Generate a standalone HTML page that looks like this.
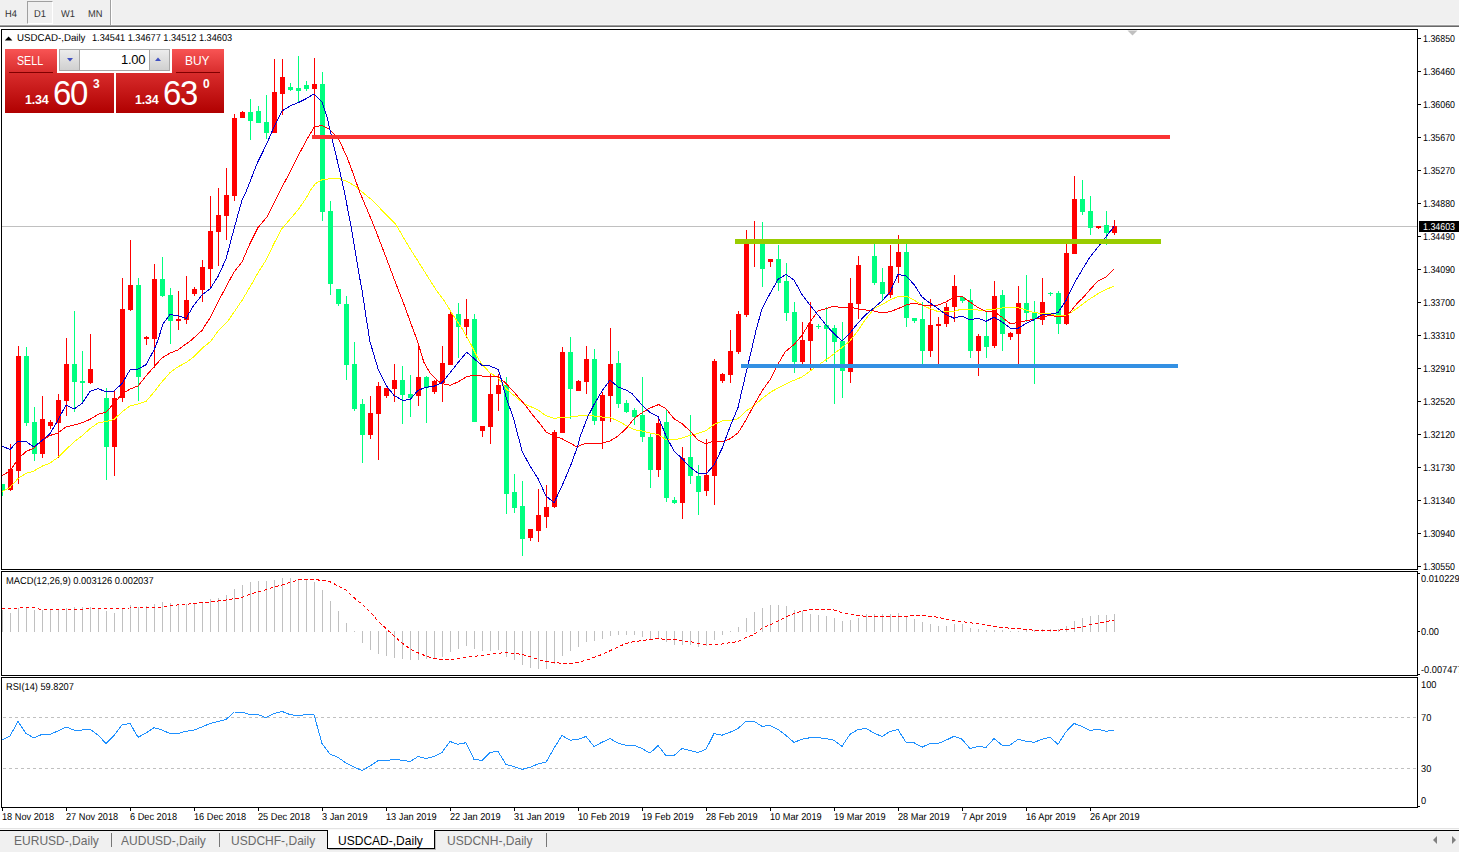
<!DOCTYPE html>
<html><head><meta charset="utf-8"><title>USDCAD Daily</title>
<style>
*{margin:0;padding:0;box-sizing:border-box}
html,body{width:1459px;height:852px;overflow:hidden;background:#fff;font-family:"Liberation Sans",sans-serif;}
body{position:relative}
.abs{position:absolute}
#tb{position:absolute;left:0;top:0;width:1459px;height:25px;background:#f0f0f0}
#tbl1{position:absolute;left:0;top:24px;width:1459px;height:1px;background:#f6f6f6}
#tbl2{position:absolute;left:0;top:25px;width:1459px;height:2px;background:linear-gradient(#a0a0a0 0,#a0a0a0 50%,#686868 50%,#686868 100%)}
.tbt{position:absolute;top:9px;font-size:10px;color:#333;line-height:12px;transform:scaleX(0.93);transform-origin:0 0;text-rendering:geometricPrecision}
#d1{position:absolute;left:27px;top:1px;width:26px;height:23px;border:1px solid #a0a0a0;border-right-color:#fff;border-bottom-color:#fff;background:#f0f0f0}
#sep{position:absolute;left:110px;top:0;width:2px;height:25px;background:linear-gradient(90deg,#a0a0a0 0,#a0a0a0 50%,#fff 50%,#fff 100%)}
.bd{position:absolute;background:#000}
.pl{position:absolute;left:1423px;font-size:10px;line-height:12px;color:#000;white-space:nowrap;transform:scaleX(0.885);transform-origin:0 0;text-rendering:geometricPrecision}
.tick{position:absolute;left:1418px;width:3px;height:1px;background:#000}
.dl{position:absolute;top:812px;font-size:10px;line-height:12px;color:#000;white-space:nowrap;transform:scaleX(0.92);transform-origin:0 0;text-rendering:geometricPrecision}
.dtick{position:absolute;top:808px;width:1px;height:3px;background:#000}
.sm{position:absolute;font-size:10px;line-height:12px;color:#000;white-space:nowrap;transform:scaleX(0.925);transform-origin:0 0;text-rendering:geometricPrecision}
#cur{position:absolute;left:1419px;top:221px;width:40px;height:11px;background:#000}
#curt{position:absolute;left:1423px;top:222px;color:#fff;font-size:10px;line-height:12px;transform:scaleX(0.885);transform-origin:0 0;text-rendering:geometricPrecision}
#curline{position:absolute;left:2px;top:226px;width:1415px;height:1px;background:#c0c0c0}
.dash{position:absolute;left:3px;width:1414px;height:1px;background:repeating-linear-gradient(90deg,#c0c0c0 0,#c0c0c0 3px,transparent 3px,transparent 6px)}
#tabs{position:absolute;left:0;top:829px;width:1459px;height:23px;background:#f0f0f0}
.tab{position:absolute;top:833px;font-size:13px;line-height:15px;color:#6a6a6a;white-space:nowrap;transform:scaleX(0.925);transform-origin:0 0}
.red1{background:linear-gradient(#f85454,#d82c2c)}
.red2{background:linear-gradient(#d82c2c,#b00000)}
</style></head><body>
<div id="tb"></div><div id="tbl1"></div><div id="tbl2"></div>
<div id="d1"></div><div id="sep"></div>
<div class="tbt" style="left:5px">H4</div><div class="tbt" style="left:34px">D1</div><div class="tbt" style="left:61px">W1</div><div class="tbt" style="left:88px">MN</div>
<!-- borders -->
<div class="bd" style="left:1px;top:29px;width:1417px;height:1px"></div>
<div class="bd" style="left:1px;top:29px;width:1px;height:779px"></div>
<div class="bd" style="left:1417px;top:29px;width:1px;height:779px"></div>
<div class="bd" style="left:1px;top:569px;width:1417px;height:1px"></div>
<div class="bd" style="left:1px;top:571px;width:1417px;height:1px"></div>
<div class="bd" style="left:1px;top:675px;width:1417px;height:1px"></div>
<div class="bd" style="left:1px;top:677px;width:1417px;height:1px"></div>
<div class="bd" style="left:1px;top:807px;width:1417px;height:1px"></div>
<div class="abs" style="left:0;top:570px;width:1459px;height:1px;background:#fff"></div>
<div class="abs" style="left:0;top:676px;width:1459px;height:1px;background:#fff"></div>
<div id="curline"></div>
<div class="abs" style="left:1418px;top:631px;width:2px;height:1px;background:#000"></div><div class="abs" style="left:1418px;top:573px;width:2px;height:1px;background:#000"></div><div class="abs" style="left:1418px;top:674px;width:2px;height:1px;background:#000"></div><div class="abs" style="left:1418px;top:806px;width:2px;height:1px;background:#000"></div>
<div class="dash" style="top:717px"></div><div class="dash" style="top:768px"></div>
<svg class="abs" style="left:0;top:0" width="1459" height="852" viewBox="0 0 1459 852" shape-rendering="crispEdges">
<defs><clipPath id="cp"><rect x="2" y="30" width="1415" height="778"/></clipPath></defs>
<g shape-rendering="crispEdges" clip-path="url(#cp)">
<rect x="2" y="484" width="1" height="12" fill="#00ff7f"/><rect x="0" y="484" width="5" height="7" fill="#00ff7f"/>
<rect x="10" y="444" width="1" height="47" fill="#ff0000"/><rect x="8" y="469" width="5" height="21" fill="#ff0000"/>
<rect x="18" y="346" width="1" height="138" fill="#ff0000"/><rect x="16" y="356" width="5" height="115" fill="#ff0000"/>
<rect x="26" y="347" width="1" height="79" fill="#00ff7f"/><rect x="24" y="356" width="5" height="67" fill="#00ff7f"/>
<rect x="34" y="407" width="1" height="54" fill="#00ff7f"/><rect x="32" y="422" width="5" height="32" fill="#00ff7f"/>
<rect x="42" y="396" width="1" height="62" fill="#ff0000"/><rect x="40" y="419" width="5" height="35" fill="#ff0000"/>
<rect x="50" y="420" width="1" height="9" fill="#ff0000"/><rect x="48" y="422" width="5" height="4" fill="#ff0000"/>
<rect x="58" y="394" width="1" height="64" fill="#ff0000"/><rect x="56" y="400" width="5" height="23" fill="#ff0000"/>
<rect x="66" y="338" width="1" height="78" fill="#ff0000"/><rect x="64" y="364" width="5" height="37" fill="#ff0000"/>
<rect x="74" y="311" width="1" height="101" fill="#00ff7f"/><rect x="72" y="364" width="5" height="18" fill="#00ff7f"/>
<rect x="82" y="351" width="1" height="51" fill="#00ff7f"/><rect x="80" y="381" width="5" height="2" fill="#00ff7f"/>
<rect x="90" y="334" width="1" height="50" fill="#ff0000"/><rect x="88" y="369" width="5" height="14" fill="#ff0000"/>
<rect x="106" y="388" width="1" height="92" fill="#00ff7f"/><rect x="104" y="398" width="5" height="49" fill="#00ff7f"/>
<rect x="114" y="390" width="1" height="86" fill="#ff0000"/><rect x="112" y="398" width="5" height="49" fill="#ff0000"/>
<rect x="122" y="278" width="1" height="124" fill="#ff0000"/><rect x="120" y="309" width="5" height="89" fill="#ff0000"/>
<rect x="130" y="240" width="1" height="71" fill="#ff0000"/><rect x="128" y="285" width="5" height="25" fill="#ff0000"/>
<rect x="138" y="278" width="1" height="123" fill="#00ff7f"/><rect x="136" y="285" width="5" height="92" fill="#00ff7f"/>
<rect x="146" y="336" width="1" height="9" fill="#ff0000"/><rect x="144" y="337" width="5" height="2" fill="#ff0000"/>
<rect x="154" y="264" width="1" height="104" fill="#ff0000"/><rect x="152" y="279" width="5" height="60" fill="#ff0000"/>
<rect x="162" y="257" width="1" height="40" fill="#00ff7f"/><rect x="160" y="279" width="5" height="17" fill="#00ff7f"/>
<rect x="170" y="288" width="1" height="56" fill="#00ff7f"/><rect x="168" y="295" width="5" height="26" fill="#00ff7f"/>
<rect x="178" y="291" width="1" height="39" fill="#ff0000"/><rect x="176" y="319" width="5" height="2" fill="#ff0000"/>
<rect x="186" y="276" width="1" height="48" fill="#ff0000"/><rect x="184" y="300" width="5" height="20" fill="#ff0000"/>
<rect x="194" y="287" width="1" height="9" fill="#ff0000"/><rect x="192" y="289" width="5" height="5" fill="#ff0000"/>
<rect x="202" y="260" width="1" height="42" fill="#ff0000"/><rect x="200" y="267" width="5" height="23" fill="#ff0000"/>
<rect x="210" y="196" width="1" height="92" fill="#ff0000"/><rect x="208" y="231" width="5" height="38" fill="#ff0000"/>
<rect x="218" y="188" width="1" height="78" fill="#ff0000"/><rect x="216" y="215" width="5" height="17" fill="#ff0000"/>
<rect x="226" y="168" width="1" height="72" fill="#ff0000"/><rect x="224" y="195" width="5" height="21" fill="#ff0000"/>
<rect x="234" y="114" width="1" height="87" fill="#ff0000"/><rect x="232" y="118" width="5" height="78" fill="#ff0000"/>
<rect x="242" y="111" width="1" height="7" fill="#ff0000"/><rect x="240" y="112" width="5" height="6" fill="#ff0000"/>
<rect x="250" y="99" width="1" height="41" fill="#00ff7f"/><rect x="248" y="112" width="5" height="9" fill="#00ff7f"/>
<rect x="258" y="106" width="1" height="17" fill="#00ff7f"/><rect x="256" y="111" width="5" height="12" fill="#00ff7f"/>
<rect x="266" y="95" width="1" height="44" fill="#00ff7f"/><rect x="264" y="122" width="5" height="11" fill="#00ff7f"/>
<rect x="274" y="59" width="1" height="74" fill="#ff0000"/><rect x="272" y="92" width="5" height="41" fill="#ff0000"/>
<rect x="282" y="59" width="1" height="56" fill="#ff0000"/><rect x="280" y="77" width="5" height="17" fill="#ff0000"/>
<rect x="290" y="83" width="1" height="8" fill="#00ff7f"/><rect x="288" y="87" width="5" height="3" fill="#00ff7f"/>
<rect x="298" y="56" width="1" height="46" fill="#00ff7f"/><rect x="296" y="88" width="5" height="3" fill="#00ff7f"/>
<rect x="306" y="81" width="1" height="10" fill="#00ff7f"/><rect x="304" y="85" width="5" height="4" fill="#00ff7f"/>
<rect x="314" y="58" width="1" height="77" fill="#ff0000"/><rect x="312" y="84" width="5" height="5" fill="#ff0000"/>
<rect x="322" y="72" width="1" height="149" fill="#00ff7f"/><rect x="320" y="84" width="5" height="128" fill="#00ff7f"/>
<rect x="330" y="201" width="1" height="94" fill="#00ff7f"/><rect x="328" y="211" width="5" height="73" fill="#00ff7f"/>
<rect x="338" y="289" width="1" height="17" fill="#00ff7f"/><rect x="336" y="289" width="5" height="15" fill="#00ff7f"/>
<rect x="346" y="296" width="1" height="84" fill="#00ff7f"/><rect x="344" y="304" width="5" height="61" fill="#00ff7f"/>
<rect x="354" y="342" width="1" height="69" fill="#00ff7f"/><rect x="352" y="364" width="5" height="45" fill="#00ff7f"/>
<rect x="362" y="399" width="1" height="64" fill="#00ff7f"/><rect x="360" y="404" width="5" height="31" fill="#00ff7f"/>
<rect x="370" y="396" width="1" height="43" fill="#ff0000"/><rect x="368" y="413" width="5" height="22" fill="#ff0000"/>
<rect x="378" y="382" width="1" height="78" fill="#ff0000"/><rect x="376" y="386" width="5" height="28" fill="#ff0000"/>
<rect x="386" y="388" width="1" height="10" fill="#ff0000"/><rect x="384" y="388" width="5" height="8" fill="#ff0000"/>
<rect x="394" y="364" width="1" height="38" fill="#ff0000"/><rect x="392" y="380" width="5" height="9" fill="#ff0000"/>
<rect x="402" y="366" width="1" height="58" fill="#00ff7f"/><rect x="400" y="380" width="5" height="15" fill="#00ff7f"/>
<rect x="410" y="375" width="1" height="42" fill="#00ff7f"/><rect x="408" y="394" width="5" height="4" fill="#00ff7f"/>
<rect x="418" y="344" width="1" height="62" fill="#ff0000"/><rect x="416" y="377" width="5" height="19" fill="#ff0000"/>
<rect x="426" y="376" width="1" height="47" fill="#00ff7f"/><rect x="424" y="377" width="5" height="11" fill="#00ff7f"/>
<rect x="434" y="380" width="1" height="14" fill="#ff0000"/><rect x="432" y="381" width="5" height="11" fill="#ff0000"/>
<rect x="442" y="346" width="1" height="56" fill="#ff0000"/><rect x="440" y="363" width="5" height="20" fill="#ff0000"/>
<rect x="450" y="312" width="1" height="53" fill="#ff0000"/><rect x="448" y="314" width="5" height="51" fill="#ff0000"/>
<rect x="458" y="303" width="1" height="55" fill="#00ff7f"/><rect x="456" y="314" width="5" height="13" fill="#00ff7f"/>
<rect x="466" y="299" width="1" height="39" fill="#ff0000"/><rect x="464" y="319" width="5" height="8" fill="#ff0000"/>
<rect x="474" y="314" width="1" height="108" fill="#00ff7f"/><rect x="472" y="319" width="5" height="103" fill="#00ff7f"/>
<rect x="482" y="426" width="1" height="11" fill="#ff0000"/><rect x="480" y="426" width="5" height="5" fill="#ff0000"/>
<rect x="490" y="374" width="1" height="70" fill="#ff0000"/><rect x="488" y="394" width="5" height="33" fill="#ff0000"/>
<rect x="498" y="374" width="1" height="37" fill="#ff0000"/><rect x="496" y="385" width="5" height="9" fill="#ff0000"/>
<rect x="506" y="377" width="1" height="137" fill="#00ff7f"/><rect x="504" y="385" width="5" height="109" fill="#00ff7f"/>
<rect x="514" y="474" width="1" height="39" fill="#00ff7f"/><rect x="512" y="492" width="5" height="16" fill="#00ff7f"/>
<rect x="522" y="481" width="1" height="75" fill="#00ff7f"/><rect x="520" y="506" width="5" height="33" fill="#00ff7f"/>
<rect x="530" y="529" width="1" height="12" fill="#ff0000"/><rect x="528" y="529" width="5" height="9" fill="#ff0000"/>
<rect x="538" y="489" width="1" height="53" fill="#ff0000"/><rect x="536" y="515" width="5" height="16" fill="#ff0000"/>
<rect x="546" y="485" width="1" height="43" fill="#ff0000"/><rect x="544" y="507" width="5" height="10" fill="#ff0000"/>
<rect x="554" y="430" width="1" height="78" fill="#ff0000"/><rect x="552" y="432" width="5" height="75" fill="#ff0000"/>
<rect x="562" y="347" width="1" height="86" fill="#ff0000"/><rect x="560" y="352" width="5" height="81" fill="#ff0000"/>
<rect x="570" y="337" width="1" height="82" fill="#00ff7f"/><rect x="568" y="352" width="5" height="37" fill="#00ff7f"/>
<rect x="578" y="380" width="1" height="11" fill="#ff0000"/><rect x="576" y="381" width="5" height="10" fill="#ff0000"/>
<rect x="586" y="346" width="1" height="48" fill="#ff0000"/><rect x="584" y="359" width="5" height="23" fill="#ff0000"/>
<rect x="594" y="349" width="1" height="76" fill="#00ff7f"/><rect x="592" y="359" width="5" height="62" fill="#00ff7f"/>
<rect x="602" y="392" width="1" height="57" fill="#ff0000"/><rect x="600" y="395" width="5" height="26" fill="#ff0000"/>
<rect x="610" y="328" width="1" height="94" fill="#ff0000"/><rect x="608" y="364" width="5" height="32" fill="#ff0000"/>
<rect x="618" y="351" width="1" height="57" fill="#00ff7f"/><rect x="616" y="363" width="5" height="41" fill="#00ff7f"/>
<rect x="626" y="400" width="1" height="13" fill="#00ff7f"/><rect x="624" y="403" width="5" height="9" fill="#00ff7f"/>
<rect x="634" y="408" width="1" height="17" fill="#00ff7f"/><rect x="632" y="410" width="5" height="7" fill="#00ff7f"/>
<rect x="642" y="377" width="1" height="65" fill="#00ff7f"/><rect x="640" y="415" width="5" height="22" fill="#00ff7f"/>
<rect x="650" y="433" width="1" height="55" fill="#00ff7f"/><rect x="648" y="437" width="5" height="33" fill="#00ff7f"/>
<rect x="658" y="416" width="1" height="61" fill="#ff0000"/><rect x="656" y="423" width="5" height="47" fill="#ff0000"/>
<rect x="666" y="410" width="1" height="92" fill="#00ff7f"/><rect x="664" y="422" width="5" height="76" fill="#00ff7f"/>
<rect x="674" y="497" width="1" height="7" fill="#00ff7f"/><rect x="672" y="500" width="5" height="3" fill="#00ff7f"/>
<rect x="682" y="447" width="1" height="72" fill="#ff0000"/><rect x="680" y="458" width="5" height="45" fill="#ff0000"/>
<rect x="690" y="415" width="1" height="69" fill="#00ff7f"/><rect x="688" y="457" width="5" height="19" fill="#00ff7f"/>
<rect x="698" y="465" width="1" height="50" fill="#00ff7f"/><rect x="696" y="476" width="5" height="16" fill="#00ff7f"/>
<rect x="706" y="439" width="1" height="57" fill="#ff0000"/><rect x="704" y="475" width="5" height="16" fill="#ff0000"/>
<rect x="714" y="359" width="1" height="146" fill="#ff0000"/><rect x="712" y="361" width="5" height="115" fill="#ff0000"/>
<rect x="722" y="373" width="1" height="10" fill="#ff0000"/><rect x="720" y="374" width="5" height="7" fill="#ff0000"/>
<rect x="730" y="330" width="1" height="53" fill="#ff0000"/><rect x="728" y="351" width="5" height="24" fill="#ff0000"/>
<rect x="738" y="311" width="1" height="43" fill="#ff0000"/><rect x="736" y="314" width="5" height="38" fill="#ff0000"/>
<rect x="746" y="230" width="1" height="87" fill="#ff0000"/><rect x="744" y="243" width="5" height="72" fill="#ff0000"/>
<rect x="754" y="221" width="1" height="46" fill="#ff0000"/><rect x="752" y="241" width="5" height="2" fill="#ff0000"/>
<rect x="762" y="222" width="1" height="65" fill="#00ff7f"/><rect x="760" y="243" width="5" height="26" fill="#00ff7f"/>
<rect x="770" y="259" width="1" height="8" fill="#ff0000"/><rect x="768" y="259" width="5" height="3" fill="#ff0000"/>
<rect x="778" y="245" width="1" height="46" fill="#00ff7f"/><rect x="776" y="259" width="5" height="24" fill="#00ff7f"/>
<rect x="786" y="263" width="1" height="58" fill="#00ff7f"/><rect x="784" y="281" width="5" height="32" fill="#00ff7f"/>
<rect x="794" y="302" width="1" height="71" fill="#00ff7f"/><rect x="792" y="312" width="5" height="50" fill="#00ff7f"/>
<rect x="802" y="322" width="1" height="42" fill="#ff0000"/><rect x="800" y="340" width="5" height="22" fill="#ff0000"/>
<rect x="810" y="302" width="1" height="69" fill="#ff0000"/><rect x="808" y="324" width="5" height="17" fill="#ff0000"/>
<rect x="818" y="324" width="1" height="5" fill="#00ff7f"/><rect x="816" y="326" width="5" height="1" fill="#00ff7f"/>
<rect x="826" y="307" width="1" height="55" fill="#00ff7f"/><rect x="824" y="325" width="5" height="4" fill="#00ff7f"/>
<rect x="834" y="325" width="1" height="79" fill="#00ff7f"/><rect x="832" y="328" width="5" height="14" fill="#00ff7f"/>
<rect x="842" y="322" width="1" height="76" fill="#00ff7f"/><rect x="840" y="341" width="5" height="30" fill="#00ff7f"/>
<rect x="850" y="278" width="1" height="105" fill="#ff0000"/><rect x="848" y="303" width="5" height="69" fill="#ff0000"/>
<rect x="858" y="256" width="1" height="63" fill="#ff0000"/><rect x="856" y="265" width="5" height="39" fill="#ff0000"/>
<rect x="874" y="243" width="1" height="42" fill="#00ff7f"/><rect x="872" y="256" width="5" height="27" fill="#00ff7f"/>
<rect x="882" y="268" width="1" height="33" fill="#00ff7f"/><rect x="880" y="282" width="5" height="12" fill="#00ff7f"/>
<rect x="890" y="245" width="1" height="53" fill="#ff0000"/><rect x="888" y="266" width="5" height="29" fill="#ff0000"/>
<rect x="898" y="235" width="1" height="48" fill="#ff0000"/><rect x="896" y="252" width="5" height="15" fill="#ff0000"/>
<rect x="906" y="244" width="1" height="83" fill="#00ff7f"/><rect x="904" y="252" width="5" height="66" fill="#00ff7f"/>
<rect x="914" y="318" width="1" height="5" fill="#00ff7f"/><rect x="912" y="318" width="5" height="3" fill="#00ff7f"/>
<rect x="922" y="302" width="1" height="62" fill="#00ff7f"/><rect x="920" y="319" width="5" height="32" fill="#00ff7f"/>
<rect x="930" y="299" width="1" height="58" fill="#ff0000"/><rect x="928" y="325" width="5" height="26" fill="#ff0000"/>
<rect x="938" y="317" width="1" height="48" fill="#ff0000"/><rect x="936" y="324" width="5" height="2" fill="#ff0000"/>
<rect x="946" y="303" width="1" height="24" fill="#ff0000"/><rect x="944" y="307" width="5" height="17" fill="#ff0000"/>
<rect x="954" y="275" width="1" height="47" fill="#ff0000"/><rect x="952" y="286" width="5" height="21" fill="#ff0000"/>
<rect x="962" y="297" width="1" height="6" fill="#00ff7f"/><rect x="960" y="297" width="5" height="4" fill="#00ff7f"/>
<rect x="970" y="289" width="1" height="69" fill="#00ff7f"/><rect x="968" y="300" width="5" height="51" fill="#00ff7f"/>
<rect x="978" y="334" width="1" height="42" fill="#ff0000"/><rect x="976" y="336" width="5" height="15" fill="#ff0000"/>
<rect x="986" y="311" width="1" height="47" fill="#00ff7f"/><rect x="984" y="336" width="5" height="11" fill="#00ff7f"/>
<rect x="994" y="281" width="1" height="67" fill="#ff0000"/><rect x="992" y="296" width="5" height="50" fill="#ff0000"/>
<rect x="1002" y="290" width="1" height="61" fill="#00ff7f"/><rect x="1000" y="295" width="5" height="39" fill="#00ff7f"/>
<rect x="1010" y="332" width="1" height="8" fill="#ff0000"/><rect x="1008" y="333" width="5" height="4" fill="#ff0000"/>
<rect x="1018" y="286" width="1" height="78" fill="#ff0000"/><rect x="1016" y="303" width="5" height="31" fill="#ff0000"/>
<rect x="1026" y="275" width="1" height="47" fill="#00ff7f"/><rect x="1024" y="303" width="5" height="10" fill="#00ff7f"/>
<rect x="1034" y="301" width="1" height="83" fill="#00ff7f"/><rect x="1032" y="312" width="5" height="7" fill="#00ff7f"/>
<rect x="1042" y="278" width="1" height="47" fill="#ff0000"/><rect x="1040" y="302" width="5" height="18" fill="#ff0000"/>
<rect x="1050" y="292" width="1" height="4" fill="#00ff7f"/><rect x="1048" y="293" width="5" height="1" fill="#00ff7f"/>
<rect x="1058" y="291" width="1" height="43" fill="#00ff7f"/><rect x="1056" y="293" width="5" height="31" fill="#00ff7f"/>
<rect x="1066" y="244" width="1" height="81" fill="#ff0000"/><rect x="1064" y="253" width="5" height="71" fill="#ff0000"/>
<rect x="1074" y="176" width="1" height="78" fill="#ff0000"/><rect x="1072" y="199" width="5" height="55" fill="#ff0000"/>
<rect x="1082" y="180" width="1" height="35" fill="#00ff7f"/><rect x="1080" y="199" width="5" height="13" fill="#00ff7f"/>
<rect x="1090" y="196" width="1" height="39" fill="#00ff7f"/><rect x="1088" y="211" width="5" height="17" fill="#00ff7f"/>
<rect x="1098" y="226" width="1" height="3" fill="#ff0000"/><rect x="1096" y="226" width="5" height="2" fill="#ff0000"/>
<rect x="1106" y="211" width="1" height="34" fill="#00ff7f"/><rect x="1104" y="225" width="5" height="8" fill="#00ff7f"/>
<rect x="1114" y="220" width="1" height="15" fill="#ff0000"/><rect x="1112" y="226" width="5" height="7" fill="#ff0000"/>
<polyline fill="none" stroke-linejoin="bevel" stroke="#ffff00" stroke-width="1" points="2,491.4 10,487.4 18,478.5 26,473.4 34,471 42,466.2 50,463.2 58,457.3 66,449.5 74,442 82,436 90,428.6 98,423 106,421.4 114,419.4 122,412 130,406 138,404 146,401.5 154,392 162,381.8 170,372.6 178,366.8 186,362.6 194,356.7 202,348.4 211,341 218,331 228.4,320.4 242,300.4 250,287 258,272.8 266,260.2 274,243.5 282,228.5 290,219.3 298,210 306,198.4 310,191 315.4,183.8 322,179.6 330.4,178.8 338.8,178.4 347,181.3 355.5,186.3 361,191 374,201.7 384,212.6 395.7,224.3 409,246.9 425.8,273.6 436.2,290 443.7,300 452,313.4 462,328.5 470.5,343.5 477.2,356.9 482,364.4 490,372.8 498,377.8 506,388.7 514,395.4 524,403.7 537.4,409.6 546,415.7 554,418.4 562,417.4 570,417 578,416 586,415.4 594,416 602,417 610,417.4 618,421 626,425.4 634,429.6 642,431 650,433 658,434.6 666,439.6 674,440 682,438 690,435.4 698,433.4 706,430.7 714,424.5 722,421 730,420.9 738,418.7 746,411 754,406 762,398.6 770.8,392 780,387 790,382 802,377 813.4,368.6 821.8,362.7 830,357 842,347.5 850,341 858,330.4 866,318.7 874,308.7 882,304.5 890,300 898,296.5 906,296 914,300 922,305 930,308.7 938,311.5 946,312 954,311.3 962,309 970,309.5 978,310 986,310 994,309.3 1002,308 1010,307.5 1018,307.6 1026,310 1034,312.6 1042,313.5 1050,313.8 1058,316 1066,315.5 1072,312 1082,304.6 1090,298.8 1098,293.7 1106,289.6 1114,286" />
<polyline fill="none" stroke-linejoin="bevel" stroke="#ff0000" stroke-width="1" points="2,475.5 10,471 18,459 26,451.5 34,448 42,440.5 50,435.5 58,433 66,427 74,425 82,422.8 90,419.4 98,414.4 106,412 114,403.5 122,394 130,389 138,386 146,376 154,366.8 162,358 170,353 178,350 186,344 191.5,340 202,330.4 210,317.8 221.7,295 234,272 242,262 250,243.5 258,227.6 267,216.8 274,203.4 279.4,192 290,172 298,156.2 306,141 314,127.3 322,125.3 329.6,129.4 338.8,139.5 347,157 353.8,175.4 359.3,191 374,226 386.5,258.6 398.3,290 403.6,303.4 410.3,321.8 418,342.7 423.7,361.9 430.4,373.6 437,380.3 442,383.6 450,385.3 458,382 466.7,376.6 474,375.3 482,376 490,376 498,376 506,383.6 514,392 524,403.7 535.7,418.8 540,423.7 546,432 554,436 562,438.8 570,443 576.8,447 586,443 594,443 602,443 610,441 618,436 626,428.7 634,418.7 642,412.8 650,408 658.7,404.5 666,408.7 674,418.7 682,423.7 690,431 698,440 706,443.8 714,441 722,442 730,438.8 738,433 746,420 754,405 762,391 770.8,378.6 777.5,365 785,352 794,344.6 802,335.4 810,322 818,311 826,308.7 834,306 842,308 850,307 858,309 866,310 874,311 882,313 890,311.7 898,308.7 906,305 914,303 922,305 930,305 938,305 946,302 954,297 962,296.5 970,302 978,307.6 986,311.5 994,311.5 1002,317.2 1010,323.4 1018,322.8 1026,320.7 1034,319.3 1042,317.7 1050,315 1058,317 1066,316 1070.4,312 1077,303.4 1082,298.8 1090,289.6 1098,281 1106,277 1114,269" />
<polyline fill="none" stroke-linejoin="bevel" stroke="#0000cd" stroke-width="1" points="2,446 10,449.5 18,441 26,441.5 34,447 42,440.5 50,433.6 58,420 66,405 74,409 82,403.5 90,391.5 98,388.5 106,392 114,391 122,383.5 130,370 138,369 146,364.7 154,350 158,340 163,323.7 170,314.5 178,315.7 186,318.4 194,305 202,295 210,289 218,276.5 226,259 234,229 242,200 246,192 257,163.7 266,145.3 274,127 282,111 290,106 298,102.7 306,98.8 314,93.8 322,101.8 327,116.9 332,138.6 338.8,167 344,190 350.5,223.4 358.9,273.6 362,290 366,316.8 370,341.8 378,368.6 386,385.3 394,395.4 402.8,400.4 410,399.5 418,390.3 426,387.3 434,386.2 442,382.8 450,372.8 458,362.7 466.7,352.2 474,358.6 482,365.3 490,366 498,369.4 500.6,377 506,397 514,420 522,451 530,466 538,478.5 546,496 554,502.8 562,486 570.8,465 577.5,446.8 580,437 587.7,417 594,404.5 602,391 610,380 618,387 626,390 632,393.6 642,405 650,412.6 658,416.5 662,426 666,436 674,451 682,458.5 690,467 698,473 706,474 714,465 722,448.5 730,426.8 738,407.5 739.7,400 751,352 756,330.4 762,308.7 770,293.6 778,279.4 786,274.4 794,280 802,294.4 810,305 818,315 826,325 834,333.7 842,341 850,333 858,322.9 866,314.5 874,307.8 882,301 890,292 898,274.4 906,276 914,284.4 922,297 930,303 938,308.5 946,314.5 954,318.2 962,316 970,320 978,318.2 986,321.3 994,317.2 1002,321.8 1010,328 1018,328.3 1026,323.5 1034,319.8 1042,314.8 1050,314.3 1058,312.6 1066,300.5 1074,283.7 1082,270 1090,257 1098,247 1106,236.9 1114,226.5" />
<rect x="312" y="135" width="858" height="4" fill="#fa3434"/>
<rect x="735" y="239" width="426" height="5" fill="#99cc00"/>
<rect x="741" y="364" width="437" height="4" fill="#3390e3"/>
<rect x="2" y="610" width="1" height="22" fill="#c0c0c0"/>
<rect x="10" y="613" width="1" height="19" fill="#c0c0c0"/>
<rect x="18" y="608" width="1" height="24" fill="#c0c0c0"/>
<rect x="26" y="607" width="1" height="25" fill="#c0c0c0"/>
<rect x="34" y="610" width="1" height="22" fill="#c0c0c0"/>
<rect x="42" y="610" width="1" height="22" fill="#c0c0c0"/>
<rect x="50" y="610" width="1" height="22" fill="#c0c0c0"/>
<rect x="58" y="610" width="1" height="22" fill="#c0c0c0"/>
<rect x="66" y="608" width="1" height="24" fill="#c0c0c0"/>
<rect x="74" y="607" width="1" height="25" fill="#c0c0c0"/>
<rect x="82" y="607" width="1" height="25" fill="#c0c0c0"/>
<rect x="90" y="607" width="1" height="25" fill="#c0c0c0"/>
<rect x="98" y="609" width="1" height="23" fill="#c0c0c0"/>
<rect x="106" y="611" width="1" height="21" fill="#c0c0c0"/>
<rect x="114" y="613" width="1" height="19" fill="#c0c0c0"/>
<rect x="122" y="608" width="1" height="24" fill="#c0c0c0"/>
<rect x="130" y="605" width="1" height="27" fill="#c0c0c0"/>
<rect x="138" y="607" width="1" height="25" fill="#c0c0c0"/>
<rect x="146" y="606" width="1" height="26" fill="#c0c0c0"/>
<rect x="154" y="604" width="1" height="28" fill="#c0c0c0"/>
<rect x="162" y="602" width="1" height="30" fill="#c0c0c0"/>
<rect x="170" y="603" width="1" height="29" fill="#c0c0c0"/>
<rect x="178" y="604" width="1" height="28" fill="#c0c0c0"/>
<rect x="186" y="604" width="1" height="28" fill="#c0c0c0"/>
<rect x="194" y="603" width="1" height="29" fill="#c0c0c0"/>
<rect x="202" y="602" width="1" height="30" fill="#c0c0c0"/>
<rect x="210" y="599" width="1" height="33" fill="#c0c0c0"/>
<rect x="218" y="598" width="1" height="34" fill="#c0c0c0"/>
<rect x="226" y="595" width="1" height="37" fill="#c0c0c0"/>
<rect x="234" y="589" width="1" height="43" fill="#c0c0c0"/>
<rect x="242" y="585" width="1" height="47" fill="#c0c0c0"/>
<rect x="250" y="582" width="1" height="50" fill="#c0c0c0"/>
<rect x="258" y="581" width="1" height="51" fill="#c0c0c0"/>
<rect x="266" y="581" width="1" height="51" fill="#c0c0c0"/>
<rect x="274" y="580" width="1" height="52" fill="#c0c0c0"/>
<rect x="282" y="578" width="1" height="54" fill="#c0c0c0"/>
<rect x="290" y="578" width="1" height="54" fill="#c0c0c0"/>
<rect x="298" y="579" width="1" height="53" fill="#c0c0c0"/>
<rect x="306" y="580" width="1" height="52" fill="#c0c0c0"/>
<rect x="314" y="582" width="1" height="50" fill="#c0c0c0"/>
<rect x="322" y="590" width="1" height="42" fill="#c0c0c0"/>
<rect x="330" y="601" width="1" height="31" fill="#c0c0c0"/>
<rect x="338" y="611" width="1" height="21" fill="#c0c0c0"/>
<rect x="346" y="623" width="1" height="9" fill="#c0c0c0"/>
<rect x="354" y="631" width="1" height="1" fill="#c0c0c0"/>
<rect x="362" y="631" width="1" height="12" fill="#c0c0c0"/>
<rect x="370" y="631" width="1" height="19" fill="#c0c0c0"/>
<rect x="378" y="631" width="1" height="23" fill="#c0c0c0"/>
<rect x="386" y="631" width="1" height="25" fill="#c0c0c0"/>
<rect x="394" y="631" width="1" height="27" fill="#c0c0c0"/>
<rect x="402" y="631" width="1" height="28" fill="#c0c0c0"/>
<rect x="410" y="631" width="1" height="29" fill="#c0c0c0"/>
<rect x="418" y="631" width="1" height="29" fill="#c0c0c0"/>
<rect x="426" y="631" width="1" height="28" fill="#c0c0c0"/>
<rect x="434" y="631" width="1" height="27" fill="#c0c0c0"/>
<rect x="442" y="631" width="1" height="26" fill="#c0c0c0"/>
<rect x="450" y="631" width="1" height="21" fill="#c0c0c0"/>
<rect x="458" y="631" width="1" height="18" fill="#c0c0c0"/>
<rect x="466" y="631" width="1" height="15" fill="#c0c0c0"/>
<rect x="474" y="631" width="1" height="18" fill="#c0c0c0"/>
<rect x="482" y="631" width="1" height="20" fill="#c0c0c0"/>
<rect x="490" y="631" width="1" height="20" fill="#c0c0c0"/>
<rect x="498" y="631" width="1" height="19" fill="#c0c0c0"/>
<rect x="506" y="631" width="1" height="26" fill="#c0c0c0"/>
<rect x="514" y="631" width="1" height="29" fill="#c0c0c0"/>
<rect x="522" y="631" width="1" height="34" fill="#c0c0c0"/>
<rect x="530" y="631" width="1" height="37" fill="#c0c0c0"/>
<rect x="538" y="631" width="1" height="38" fill="#c0c0c0"/>
<rect x="546" y="631" width="1" height="38" fill="#c0c0c0"/>
<rect x="554" y="631" width="1" height="33" fill="#c0c0c0"/>
<rect x="562" y="631" width="1" height="25" fill="#c0c0c0"/>
<rect x="570" y="631" width="1" height="20" fill="#c0c0c0"/>
<rect x="578" y="631" width="1" height="16" fill="#c0c0c0"/>
<rect x="586" y="631" width="1" height="11" fill="#c0c0c0"/>
<rect x="594" y="631" width="1" height="10" fill="#c0c0c0"/>
<rect x="602" y="631" width="1" height="8" fill="#c0c0c0"/>
<rect x="610" y="631" width="1" height="5" fill="#c0c0c0"/>
<rect x="618" y="631" width="1" height="4" fill="#c0c0c0"/>
<rect x="626" y="631" width="1" height="4" fill="#c0c0c0"/>
<rect x="634" y="631" width="1" height="4" fill="#c0c0c0"/>
<rect x="642" y="631" width="1" height="6" fill="#c0c0c0"/>
<rect x="650" y="631" width="1" height="8" fill="#c0c0c0"/>
<rect x="658" y="631" width="1" height="8" fill="#c0c0c0"/>
<rect x="666" y="631" width="1" height="11" fill="#c0c0c0"/>
<rect x="674" y="631" width="1" height="14" fill="#c0c0c0"/>
<rect x="682" y="631" width="1" height="14" fill="#c0c0c0"/>
<rect x="690" y="631" width="1" height="14" fill="#c0c0c0"/>
<rect x="698" y="631" width="1" height="16" fill="#c0c0c0"/>
<rect x="706" y="631" width="1" height="15" fill="#c0c0c0"/>
<rect x="714" y="631" width="1" height="9" fill="#c0c0c0"/>
<rect x="722" y="631" width="1" height="4" fill="#c0c0c0"/>
<rect x="730" y="631" width="1" height="1" fill="#c0c0c0"/>
<rect x="738" y="627" width="1" height="5" fill="#c0c0c0"/>
<rect x="746" y="618" width="1" height="14" fill="#c0c0c0"/>
<rect x="754" y="612" width="1" height="20" fill="#c0c0c0"/>
<rect x="762" y="608" width="1" height="24" fill="#c0c0c0"/>
<rect x="770" y="605" width="1" height="27" fill="#c0c0c0"/>
<rect x="778" y="605" width="1" height="27" fill="#c0c0c0"/>
<rect x="786" y="606" width="1" height="26" fill="#c0c0c0"/>
<rect x="794" y="610" width="1" height="22" fill="#c0c0c0"/>
<rect x="802" y="611" width="1" height="21" fill="#c0c0c0"/>
<rect x="810" y="614" width="1" height="18" fill="#c0c0c0"/>
<rect x="818" y="615" width="1" height="17" fill="#c0c0c0"/>
<rect x="826" y="616" width="1" height="16" fill="#c0c0c0"/>
<rect x="834" y="618" width="1" height="14" fill="#c0c0c0"/>
<rect x="842" y="621" width="1" height="11" fill="#c0c0c0"/>
<rect x="850" y="620" width="1" height="12" fill="#c0c0c0"/>
<rect x="858" y="618" width="1" height="14" fill="#c0c0c0"/>
<rect x="866" y="614" width="1" height="18" fill="#c0c0c0"/>
<rect x="874" y="614" width="1" height="18" fill="#c0c0c0"/>
<rect x="882" y="614" width="1" height="18" fill="#c0c0c0"/>
<rect x="890" y="614" width="1" height="18" fill="#c0c0c0"/>
<rect x="898" y="613" width="1" height="19" fill="#c0c0c0"/>
<rect x="906" y="616" width="1" height="16" fill="#c0c0c0"/>
<rect x="914" y="619" width="1" height="13" fill="#c0c0c0"/>
<rect x="922" y="622" width="1" height="10" fill="#c0c0c0"/>
<rect x="930" y="624" width="1" height="8" fill="#c0c0c0"/>
<rect x="938" y="626" width="1" height="6" fill="#c0c0c0"/>
<rect x="946" y="626" width="1" height="6" fill="#c0c0c0"/>
<rect x="954" y="624" width="1" height="8" fill="#c0c0c0"/>
<rect x="962" y="624" width="1" height="8" fill="#c0c0c0"/>
<rect x="970" y="628" width="1" height="4" fill="#c0c0c0"/>
<rect x="978" y="629" width="1" height="3" fill="#c0c0c0"/>
<rect x="986" y="630" width="1" height="2" fill="#c0c0c0"/>
<rect x="994" y="630" width="1" height="2" fill="#c0c0c0"/>
<rect x="1002" y="630" width="1" height="2" fill="#c0c0c0"/>
<rect x="1010" y="631" width="1" height="1" fill="#c0c0c0"/>
<rect x="1018" y="631" width="1" height="1" fill="#c0c0c0"/>
<rect x="1026" y="630" width="1" height="2" fill="#c0c0c0"/>
<rect x="1034" y="630" width="1" height="2" fill="#c0c0c0"/>
<rect x="1042" y="629" width="1" height="3" fill="#c0c0c0"/>
<rect x="1050" y="629" width="1" height="3" fill="#c0c0c0"/>
<rect x="1058" y="629" width="1" height="3" fill="#c0c0c0"/>
<rect x="1066" y="626" width="1" height="6" fill="#c0c0c0"/>
<rect x="1074" y="621" width="1" height="11" fill="#c0c0c0"/>
<rect x="1082" y="618" width="1" height="14" fill="#c0c0c0"/>
<rect x="1090" y="616" width="1" height="16" fill="#c0c0c0"/>
<rect x="1098" y="615" width="1" height="17" fill="#c0c0c0"/>
<rect x="1106" y="615" width="1" height="17" fill="#c0c0c0"/>
<rect x="1114" y="614" width="1" height="18" fill="#c0c0c0"/>
<polyline fill="none" stroke-linejoin="bevel" stroke="#ff0000" stroke-width="1" points="2,608.5 33,607.6 40,609.3 75,609.3 100,608.5 130,608 164,607 170.6,605.5 189,604 212,601.8 225.8,600 242,597.6 250,594 258,592 266,589.6 274,587 282,585 290,582.5 298,580 306,579.5 314,579.5 322,580.4 330,581.7 338,585.9 346,590 354,597.6 362,604.3 370,611.8 378,621 386,628.5 394,636 402,643 410,649 418,652.8 426,656 434,658.6 442,659.5 450,659.5 458,658.6 466,657.3 474,656.5 482,655.3 490,654.4 498,653.3 506,652.4 514,653.3 522,654.4 530,656.5 538,659.5 546,661.5 554,662.5 562,663.3 570,663.3 578,662.5 586,660.3 594,657.5 602,654.4 610,650.8 618,646.9 626,643.6 634,641.6 642,640.6 650,639.4 658,638.6 666,639.4 674,639.4 682,640.6 690,641.6 698,643.6 706,644.4 714,644.4 722,644 730,642.7 738,641.6 746,637.7 754,634.4 762,628.5 770,624.8 778,621 786,616.8 794,613.5 802,611 810,609.6 818,609.6 826,609.6 834,610 842,612.6 850,613.8 858,615.5 866,616.3 874,616.3 882,616.3 890,616.3 898,616.3 906,616.3 914,615.5 922,615.5 930,616.3 938,617.3 946,619.3 954,620.5 962,621.5 970,622.7 978,623.8 986,625.2 994,626.4 1002,627.4 1010,628.2 1018,628.2 1026,629.4 1034,630.2 1042,630.2 1050,630.2 1058,630.2 1066,629.4 1074,628.2 1082,627.4 1090,624.8 1098,623.5 1106,621.5 1114,620.2" stroke-dasharray="3.5,2.5"/>
<polyline fill="none" stroke-linejoin="bevel" stroke="#1e90ff" stroke-width="1" points="2,740.2 10,736 18,721.4 26,733.5 34,738 42,734.3 50,734.3 58,731 66,727 74,730 82,730 90,729.3 98,735 106,743.5 114,735.5 122,725 130,723.4 138,737.3 146,733 154,727.6 162,730 170,733.5 178,733.5 186,731.3 194,730 202,727 210,723.4 218,721.4 226,719.6 234,712 242,712.2 250,714.6 258,714.6 266,717.6 274,713.4 282,711.4 290,714.6 298,715.6 306,714.6 314,714.6 322,743.5 330,754 338,757.4 346,763 354,767 362,770.6 370,766 378,760.6 386,760.6 394,759.4 402,760.2 410,761.6 418,756.6 426,758.6 434,756.4 442,752.4 450,741.5 458,744.3 466,742.7 474,759.4 482,760.4 490,752.4 498,751.4 506,764.4 514,766.6 522,769.4 530,767.3 538,764 546,762.2 554,748.2 562,735.5 570,740.2 578,739.3 586,736.5 594,746.4 602,742.3 610,738.5 618,743.2 626,745.2 634,745.2 642,748.5 650,753.2 658,745.5 666,755.6 674,755.6 682,748.5 690,750.5 698,752.4 706,749.4 714,733.5 722,735.2 730,732.3 738,728.5 746,721.3 754,721.3 762,726.3 770,725.5 778,729.3 786,735.5 794,742.3 802,739.3 810,737.7 818,737.7 826,738.5 834,740.2 842,746.4 850,734.3 858,729.6 866,728.5 874,733 882,736.5 890,731.5 898,729.6 906,742.3 914,742.7 922,747.2 930,743.5 938,743.5 946,740.2 954,736.3 962,739.2 970,748.5 978,746.4 986,747.4 994,738.5 1002,745.2 1010,745.2 1018,739.3 1026,741.3 1034,742.3 1042,739.3 1050,737.3 1058,744.3 1066,731.8 1074,723.4 1082,726.5 1090,730.5 1098,729.3 1106,731.3 1114,730" />
</g>
<path d="M1127.5 30.5h10l-5 5z" fill="#c0c0c0" shape-rendering="geometricPrecision"/>
<path d="M4.8 40.6h7.6l-3.8-4.2z" fill="#000" shape-rendering="geometricPrecision"/>
</svg>
<div class="tick" style="top:38px"></div><div class="pl" style="top:34px">1.36850</div><div class="tick" style="top:71px"></div><div class="pl" style="top:67px">1.36460</div><div class="tick" style="top:104px"></div><div class="pl" style="top:100px">1.36060</div><div class="tick" style="top:137px"></div><div class="pl" style="top:133px">1.35670</div><div class="tick" style="top:170px"></div><div class="pl" style="top:166px">1.35270</div><div class="tick" style="top:203px"></div><div class="pl" style="top:199px">1.34880</div><div class="tick" style="top:236px"></div><div class="pl" style="top:232px">1.34490</div><div class="tick" style="top:269px"></div><div class="pl" style="top:265px">1.34090</div><div class="tick" style="top:302px"></div><div class="pl" style="top:298px">1.33700</div><div class="tick" style="top:335px"></div><div class="pl" style="top:331px">1.33310</div><div class="tick" style="top:368px"></div><div class="pl" style="top:364px">1.32910</div><div class="tick" style="top:401px"></div><div class="pl" style="top:397px">1.32520</div><div class="tick" style="top:434px"></div><div class="pl" style="top:430px">1.32120</div><div class="tick" style="top:467px"></div><div class="pl" style="top:463px">1.31730</div><div class="tick" style="top:500px"></div><div class="pl" style="top:496px">1.31340</div><div class="tick" style="top:533px"></div><div class="pl" style="top:529px">1.30940</div><div class="tick" style="top:566px"></div><div class="pl" style="top:562px">1.30550</div><div class="dtick" style="left:2px"></div><div class="dl" style="left:2px">18 Nov 2018</div><div class="dtick" style="left:66px"></div><div class="dl" style="left:66px">27 Nov 2018</div><div class="dtick" style="left:130px"></div><div class="dl" style="left:130px">6 Dec 2018</div><div class="dtick" style="left:194px"></div><div class="dl" style="left:194px">16 Dec 2018</div><div class="dtick" style="left:258px"></div><div class="dl" style="left:258px">25 Dec 2018</div><div class="dtick" style="left:322px"></div><div class="dl" style="left:322px">3 Jan 2019</div><div class="dtick" style="left:386px"></div><div class="dl" style="left:386px">13 Jan 2019</div><div class="dtick" style="left:450px"></div><div class="dl" style="left:450px">22 Jan 2019</div><div class="dtick" style="left:514px"></div><div class="dl" style="left:514px">31 Jan 2019</div><div class="dtick" style="left:578px"></div><div class="dl" style="left:578px">10 Feb 2019</div><div class="dtick" style="left:642px"></div><div class="dl" style="left:642px">19 Feb 2019</div><div class="dtick" style="left:706px"></div><div class="dl" style="left:706px">28 Feb 2019</div><div class="dtick" style="left:770px"></div><div class="dl" style="left:770px">10 Mar 2019</div><div class="dtick" style="left:834px"></div><div class="dl" style="left:834px">19 Mar 2019</div><div class="dtick" style="left:898px"></div><div class="dl" style="left:898px">28 Mar 2019</div><div class="dtick" style="left:962px"></div><div class="dl" style="left:962px">7 Apr 2019</div><div class="dtick" style="left:1026px"></div><div class="dl" style="left:1026px">16 Apr 2019</div><div class="dtick" style="left:1090px"></div><div class="dl" style="left:1090px">26 Apr 2019</div>
<div id="cur"></div><div id="curt">1.34603</div>
<div class="sm" style="left:17px;top:33px;transform:scaleX(0.97)">USDCAD-,Daily</div><div class="sm" style="left:91.7px;top:33px;transform:scaleX(0.916)">1.34541 1.34677 1.34512 1.34603</div>
<div class="sm" style="left:6px;top:576px;transform:scaleX(0.932)">MACD(12,26,9) 0.003126 0.002037</div>
<div class="sm" style="left:6px;top:682px">RSI(14) 59.8207</div>
<div class="sm" style="left:1421px;top:574px">0.010229</div>
<div class="sm" style="left:1421px;top:627px">0.00</div>
<div class="sm" style="left:1421px;top:665px">-0.007477</div>
<div class="sm" style="left:1421px;top:680px">100</div>
<div class="sm" style="left:1421px;top:713px">70</div>
<div class="sm" style="left:1421px;top:764px">30</div>
<div class="sm" style="left:1421px;top:796px">0</div>
<!-- trade panel -->
<div class="abs red1" style="left:5px;top:49px;width:52px;height:24px"></div>
<div class="abs red1" style="left:172px;top:49px;width:52px;height:24px"></div>
<div class="abs red2" style="left:5px;top:73px;width:109px;height:40px"></div>
<div class="abs red2" style="left:116px;top:73px;width:108px;height:40px"></div>
<div class="abs" style="left:9px;top:72px;width:44px;height:1px;background:#800000"></div>
<div class="abs" style="left:176px;top:72px;width:44px;height:1px;background:#800000"></div>
<div class="abs" style="left:59px;top:49px;width:111px;height:22px;background:#fff;border:1px solid #a8a8a8"></div>
<div class="abs" style="left:60px;top:50px;width:20px;height:20px;background:linear-gradient(#ececec,#d0d0d0);border-right:1px solid #a8a8a8"></div>
<div class="abs" style="left:149px;top:50px;width:20px;height:20px;background:linear-gradient(#ececec,#d0d0d0);border-left:1px solid #a8a8a8"></div>
<svg class="abs" style="left:0;top:0" width="240" height="120"><path d="M67 58h6l-3 3.5z" fill="#4050c0"/><path d="M155 61h6l-3 -3.5z" fill="#4050c0"/></svg>
<div class="abs" style="left:17px;top:53px;font-size:13px;line-height:15px;color:#fff;letter-spacing:0;transform:scaleX(0.82);transform-origin:0 0">SELL</div>
<div class="abs" style="left:185px;top:53px;font-size:13px;line-height:15px;color:#fff;letter-spacing:0;transform:scaleX(0.92);transform-origin:0 0">BUY</div>
<div class="abs" style="left:121px;top:52px;font-size:13px;line-height:15px;color:#000;letter-spacing:-0.3px">1.00</div>
<div class="abs" style="left:25px;top:93px;font-size:12.5px;font-weight:bold;line-height:14px;color:#fff;letter-spacing:-0.2px">1.34</div>
<div class="abs" style="left:135px;top:93px;font-size:12.5px;font-weight:bold;line-height:14px;color:#fff;letter-spacing:-0.2px">1.34</div>
<div class="abs" style="left:53px;top:75px;font-size:35px;line-height:36px;color:#fff;letter-spacing:-1.5px;transform:scaleX(0.94);transform-origin:0 0">60</div>
<div class="abs" style="left:163px;top:75px;font-size:35px;line-height:36px;color:#fff;letter-spacing:-1.5px;transform:scaleX(0.94);transform-origin:0 0">63</div>
<div class="abs" style="left:93px;top:78px;font-size:12px;font-weight:bold;line-height:12px;color:#fff">3</div>
<div class="abs" style="left:203px;top:78px;font-size:12px;font-weight:bold;line-height:12px;color:#fff">0</div>
<!-- bottom tabs -->
<div id="tabs"></div>
<div class="abs" style="left:0;top:828px;width:1459px;height:1px;background:#e3e3e3"></div>
<div class="abs" style="left:0;top:829px;width:1459px;height:1px;background:#fafafa"></div>
<div class="abs" style="left:0;top:830px;width:1459px;height:1px;background:#000"></div>
<div class="abs" style="left:327px;top:830px;width:108px;height:19px;background:#fff;border:1px solid #000;border-top:none"></div>
<div class="abs" style="left:329px;top:849px;width:107px;height:1px;background:#b8b8b8"></div>
<div class="abs" style="left:435px;top:832px;width:1px;height:18px;background:#b8b8b8"></div>
<div class="tab" style="left:14px">EURUSD-,Daily</div>
<div class="tab" style="left:121px">AUDUSD-,Daily</div>
<div class="tab" style="left:231px">USDCHF-,Daily</div>
<div class="tab" style="left:338px;color:#000">USDCAD-,Daily</div>
<div class="tab" style="left:447px">USDCNH-,Daily</div>
<div class="abs" style="left:111px;top:833px;width:1px;height:14px;background:#777"></div>
<div class="abs" style="left:219px;top:833px;width:1px;height:14px;background:#777"></div>
<div class="abs" style="left:546px;top:833px;width:1px;height:14px;background:#777"></div>
<svg class="abs" style="left:1420px;top:830px" width="39" height="22"><path d="M17 6v8l-4-4z" fill="#808080"/><path d="M32 6v8l4-4z" fill="#808080"/></svg>
</body></html>
